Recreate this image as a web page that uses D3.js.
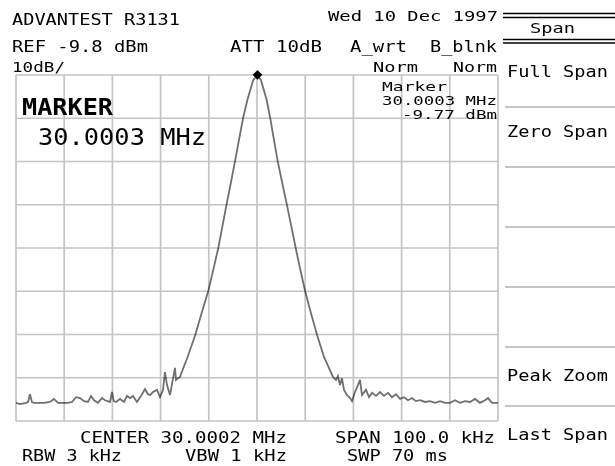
<!DOCTYPE html>
<html>
<head>
<meta charset="utf-8">
<script src="https://cdn.jsdelivr.net/npm/d3@7"></script>
<style>
  html, body { margin: 0; padding: 0; background: #fff; }
  svg { display: block; }
  text { font-family: "DejaVu Sans Mono", "Liberation Mono", monospace; fill: #000; }
</style>
</head>
<body>
<svg id="screen" width="615" height="466"></svg>
<script>
// Trace: frequency offset from centre (kHz) and level (dBm)
const freqOffsetKHz = [
  -50.0, -49.17, -47.93, -47.5, -47.1, -46.7, -46.27, -45.44, -44.19, -42.95,
  -42.12, -41.29, -40.04, -39.21, -38.38, -37.55, -36.72, -35.89, -35.06, -34.44,
  -33.82, -32.99, -32.16, -31.54, -30.5, -30.08, -29.7, -29.25, -28.42, -27.59,
  -26.97, -26.35, -25.73, -24.9, -24.07, -23.24, -22.6, -22.2, -21.58, -20.75,
  -20.12, -19.5, -19.09, -18.67, -18.05, -17.63, -17.01, -16.8, -16.39, -15.98,
  -14.4, -12.86, -11.5, -10.1, -9.07, -8.03, -7.16, -6.29, -5.4, -4.56,
  -3.7, -2.84, -2.0, -0.8, 0.1, 0.83, 2.01, 2.7, 3.49, 4.29,
  5.23, 6.16, 7.1, 8.03, 8.98, 9.96, 11.2, 12.51, 13.9, 15.77,
  16.39, 16.8, 17.22, 17.63, 18.05, 18.67, 19.29, 19.71, 20.33, 20.95,
  21.37, 21.78, 22.61, 23.24, 23.86, 24.69, 25.52, 26.35, 27.18, 28.01,
  28.84, 29.67, 30.5, 31.33, 32.16, 32.99, 33.82, 34.85, 35.89, 36.93,
  37.97, 39.0, 40.04, 41.08, 42.12, 43.15, 44.19, 45.23, 46.27, 47.3,
  47.93, 48.76, 50.0
];
const levelDBm = [
  -85.6, -85.9, -85.6, -85.4, -83.6, -85.4, -85.6, -85.6, -85.6, -85.4,
  -84.7, -85.6, -85.6, -85.6, -85.4, -84.3, -84.5, -85.2, -85.4, -84.0,
  -85.0, -85.6, -84.5, -85.0, -85.4, -83.1, -85.2, -85.4, -84.7, -85.4,
  -84.0, -84.5, -84.0, -85.4, -84.0, -82.4, -83.6, -83.8, -83.1, -82.6,
  -84.3, -82.6, -78.5, -81.5, -83.8, -81.2, -77.5, -80.3, -79.9, -79.6,
  -75.0, -70.1, -64.9, -59.7, -54.8, -49.8, -44.7, -39.6, -34.6, -29.7,
  -24.6, -19.5, -15.6, -11.0, -9.77, -11.0, -15.6, -19.5, -24.6, -29.7,
  -34.7, -39.6, -44.7, -49.8, -54.8, -59.7, -64.9, -70.1, -75.0, -79.6,
  -80.3, -79.4, -81.5, -79.9, -82.6, -83.8, -84.5, -85.2, -83.1, -81.5,
  -80.3, -83.8, -82.6, -84.3, -83.3, -84.0, -83.1, -84.0, -83.3, -84.3,
  -83.6, -84.7, -84.3, -85.0, -84.5, -85.2, -85.0, -85.4, -85.2, -85.6,
  -85.2, -85.6, -85.6, -85.0, -85.6, -85.2, -85.4, -84.7, -85.6, -85.0,
  -84.5, -85.6, -85.6
];

// Display settings
const refLevel = -9.8;           // dBm, top of the screen
const dbPerDiv = 10;
const levelDivs = 8;
const spanKHz = 100;
const freqDivs = 10;
const markerOffsetKHz = 0.1;     // 30.0003 MHz vs centre 30.0002 MHz
const markerLevel = -9.77;

const headerLines = [
  { t: "ADVANTEST R3131", x: 12, y: 25, w: 168, fs: 15.5 },
  { t: "Wed 10 Dec 1997", x: 328, y: 21, w: 170, fs: 14 },
  { t: "REF -9.8 dBm", x: 12, y: 52, w: 136, fs: 15.5 },
  { t: "ATT 10dB", x: 230, y: 52, w: 92, fs: 15.5 },
  { t: "A_wrt", x: 350, y: 52, w: 57, fs: 15.5 },
  { t: "B_blnk", x: 430, y: 52, w: 67, fs: 15.5 },
  { t: "10dB/", x: 12, y: 72, w: 53, fs: 14 },
  { t: "Norm", x: 373, y: 72, w: 45, fs: 14 },
  { t: "Norm", x: 453, y: 72, w: 44, fs: 14 },
  { t: "Marker", x: 382, y: 91, w: 65, fs: 11.5 },
  { t: "30.0003 MHz", x: 382, y: 105, w: 115, fs: 11.5 },
  { t: "-9.77 dBm", x: 402, y: 119, w: 95, fs: 11.5 },
  { t: "CENTER 30.0002 MHz", x: 80, y: 443, w: 207, fs: 15.5 },
  { t: "RBW 3 kHz", x: 22, y: 461, w: 100, fs: 15.5 },
  { t: "VBW 1 kHz", x: 185, y: 461, w: 102, fs: 15.5 },
  { t: "SPAN 100.0 kHz", x: 335, y: 443, w: 160, fs: 15.5 },
  { t: "SWP 70 ms", x: 347, y: 461, w: 101, fs: 15.5 }
];
const menuTitle = "Span";
const menuItems = [
  { t: "Full Span", y: 77 },
  { t: "Zero Span", y: 137 },
  { t: "Peak Zoom", y: 381 },
  { t: "Last Span", y: 440 }
];
const menuSeparators = [107, 167, 227, 287, 347, 406];

const svg = d3.select("#screen");
const plot = { left: 16, right: 498, top: 75, bottom: 421 };

const x = d3.scaleLinear().domain([-spanKHz / 2, spanKHz / 2]).range([plot.left, plot.right]);
const y = d3.scaleLinear()
  .domain([refLevel - dbPerDiv * levelDivs, refLevel])
  .range([plot.bottom, plot.top]);

// Graticule
const gridColor = "#c4c4c4";
const xGrid = d3.range(freqDivs + 1).map(i => -spanKHz / 2 + i * spanKHz / freqDivs);
const yGrid = d3.range(levelDivs + 1).map(i => refLevel - i * dbPerDiv);
const grid = svg.append("g");
grid.selectAll("line.v").data(xGrid).join("line")
  .attr("x1", d => x(d)).attr("x2", d => x(d))
  .attr("y1", plot.top).attr("y2", plot.bottom)
  .attr("stroke", gridColor).attr("stroke-width", 1.7);
grid.selectAll("line.h").data(yGrid).join("line")
  .attr("x1", plot.left).attr("x2", plot.right)
  .attr("y1", d => y(d)).attr("y2", d => y(d))
  .attr("stroke", gridColor).attr("stroke-width", 1.7);

// Trace
const pts = freqOffsetKHz.map((f, i) => [f, levelDBm[i]]);
const line = d3.line().x(d => x(d[0])).y(d => y(d[1]));
svg.append("path")
  .datum(pts)
  .attr("d", line)
  .attr("fill", "none")
  .attr("stroke", "#707070")
  .attr("stroke-width", 1.8)
  .style("mix-blend-mode", "multiply");

// Marker diamond
const mx = x(markerOffsetKHz), my = y(markerLevel);
svg.append("path")
  .attr("d", d3.symbol(d3.symbolDiamond2, 60)())
  .attr("transform", `translate(${mx},${my})`)
  .attr("fill", "#000");

// Header / footer annotations
svg.selectAll("text.hdr").data(headerLines).join("text")
  .attr("x", d => d.x).attr("y", d => d.y)
  .attr("font-size", d => d.fs)
  .attr("textLength", d => d.w)
  .attr("lengthAdjust", "spacingAndGlyphs")
  .text(d => d.t);

// Large marker readout
svg.append("text").attr("x", 22).attr("y", 115)
  .attr("font-size", 23).attr("font-weight", "bold")
  .attr("textLength", 91).attr("lengthAdjust", "spacingAndGlyphs")
  .text("MARKER");
svg.append("text").attr("x", 38).attr("y", 145)
  .attr("font-size", 23)
  .attr("textLength", 168).attr("lengthAdjust", "spacingAndGlyphs")
  .text("30.0003 MHz");

// Soft-key menu
const menu = svg.append("g");
[13.5, 17.5, 39.5, 43].forEach(v => {
  menu.append("line").attr("x1", 503).attr("x2", 615)
    .attr("y1", v).attr("y2", v).attr("stroke", "#000").attr("stroke-width", 1.6);
});
menu.append("text").attr("x", 530).attr("y", 33)
  .attr("font-size", 14).attr("textLength", 45).attr("lengthAdjust", "spacingAndGlyphs")
  .text(menuTitle);
menu.selectAll("text.item").data(menuItems).join("text")
  .attr("x", 507).attr("y", d => d.y)
  .attr("font-size", 15.5).attr("textLength", 101).attr("lengthAdjust", "spacingAndGlyphs")
  .text(d => d.t);
menu.selectAll("line.sep").data(menuSeparators).join("line")
  .attr("x1", 505).attr("x2", 615)
  .attr("y1", d => d).attr("y2", d => d)
  .attr("stroke", "#b4b4b4").attr("stroke-width", 1.5);
</script>
</body>
</html>
